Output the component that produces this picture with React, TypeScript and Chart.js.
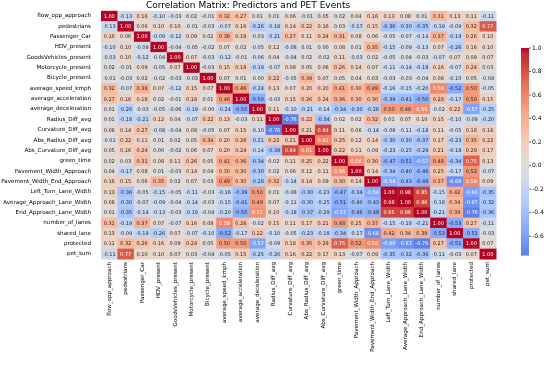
import React, { useEffect, useRef } from "react";
import { Chart, registerables } from "chart.js";

Chart.register(...registerables);

const chartTitle = "Correlation Matrix: Predictors and PET Events";

const variables = [
  "flow_opp_approach",
  "pedestrians",
  "Passenger_Car",
  "HDV_present",
  "GoodsVehicles_present",
  "Motorcycle_present",
  "Bicycle_present",
  "average_speed_kmph",
  "average_acceleration",
  "average_deceleration",
  "Radius_Diff_avg",
  "Curvature_Diff_avg",
  "Abs_Radius_Diff_avg",
  "Abs_Curvature_Diff_avg",
  "green_time",
  "Pavement_Width_Approach",
  "Pavement_Width_End_Approach",
  "Left_Turn_Lane_Width",
  "Average_Approach_Lane_Width",
  "End_Approach_Lane_Width",
  "number_of_lanes",
  "shared_lane",
  "protected",
  "pet_sum",
];

const corrRows: number[][] = [
  [1.00, -0.13, 0.16, -0.10, -0.03, 0.02, -0.01, 0.32, 0.27, 0.01, 0.01, 0.06, -0.01, 0.05, 0.02, 0.04, 0.16, 0.13, 0.08, 0.01, 0.31, 0.13, 0.11, -0.11],
  [-0.13, 1.00, 0.06, 0.10, 0.10, -0.01, -0.03, -0.07, 0.16, -0.26, -0.18, 0.14, 0.22, 0.16, 0.03, -0.17, 0.15, -0.36, -0.30, -0.35, -0.19, -0.09, 0.32, 0.77],
  [0.16, 0.06, 1.00, -0.09, -0.12, 0.09, 0.02, 0.38, 0.18, -0.03, -0.21, 0.27, 0.11, 0.24, 0.31, 0.08, 0.06, -0.05, -0.07, -0.14, 0.37, -0.19, 0.26, 0.10],
  [-0.10, 0.10, -0.09, 1.00, -0.04, -0.05, -0.02, 0.07, 0.02, -0.05, 0.12, -0.08, 0.01, 0.00, 0.08, 0.01, 0.35, -0.15, -0.09, -0.13, 0.07, -0.26, 0.16, 0.10],
  [-0.03, 0.10, -0.12, -0.04, 1.00, 0.07, -0.03, -0.12, -0.01, -0.06, 0.04, -0.04, 0.02, -0.02, 0.11, -0.03, 0.02, -0.05, -0.04, -0.03, -0.07, 0.07, 0.09, 0.07],
  [0.02, -0.01, 0.09, -0.05, 0.07, 1.00, -0.03, 0.15, 0.18, -0.19, -0.07, 0.08, 0.05, 0.06, 0.26, 0.14, 0.07, -0.11, -0.14, -0.19, 0.16, -0.07, 0.24, 0.03],
  [-0.01, -0.03, 0.02, -0.02, -0.03, -0.03, 1.00, 0.07, 0.01, -0.00, 0.22, -0.05, 0.34, 0.07, 0.05, 0.04, 0.03, -0.03, -0.03, -0.04, 0.08, -0.10, 0.05, -0.04],
  [0.32, -0.07, 0.38, 0.07, -0.12, 0.15, 0.07, 1.00, 0.46, -0.24, 0.13, 0.07, 0.20, 0.20, 0.41, 0.30, 0.49, -0.16, -0.15, -0.20, 0.58, -0.52, 0.50, -0.05],
  [0.27, 0.16, 0.18, 0.02, -0.01, 0.18, 0.01, 0.46, 1.00, -0.50, -0.03, 0.15, 0.26, 0.24, 0.36, 0.30, 0.30, -0.39, -0.41, -0.50, 0.28, -0.17, 0.50, 0.15],
  [0.01, -0.26, -0.03, -0.05, -0.06, -0.19, -0.00, -0.24, -0.50, 1.00, 0.11, -0.10, -0.21, -0.14, -0.34, -0.30, -0.28, 0.50, 0.49, 0.55, -0.02, 0.22, -0.57, -0.25],
  [0.01, -0.18, -0.21, 0.12, 0.04, -0.07, 0.22, 0.13, -0.03, 0.11, 1.00, -0.76, 0.22, -0.34, 0.02, 0.02, 0.32, 0.01, 0.07, 0.10, 0.15, -0.10, -0.09, -0.20],
  [0.06, 0.14, 0.27, -0.08, -0.04, 0.08, -0.05, 0.07, 0.15, -0.10, -0.76, 1.00, 0.21, 0.84, 0.11, 0.06, -0.14, -0.08, -0.11, -0.18, 0.11, -0.05, 0.18, 0.16],
  [-0.01, 0.22, 0.11, 0.01, 0.02, 0.05, 0.34, 0.20, 0.26, -0.21, 0.22, 0.21, 1.00, 0.61, 0.25, 0.12, 0.14, -0.30, -0.30, -0.37, 0.17, -0.23, 0.35, 0.22],
  [0.05, 0.16, 0.24, 0.00, -0.02, 0.06, 0.07, 0.20, 0.24, -0.14, -0.34, 0.84, 0.61, 1.00, 0.22, 0.11, 0.09, -0.23, -0.25, -0.29, 0.21, -0.18, 0.29, 0.17],
  [0.02, 0.03, 0.31, 0.08, 0.11, 0.26, 0.05, 0.41, 0.36, -0.34, 0.02, 0.11, 0.25, 0.22, 1.00, 0.56, 0.30, -0.47, -0.51, -0.57, 0.48, -0.34, 0.75, 0.13],
  [0.04, -0.17, 0.08, 0.01, -0.03, 0.14, 0.04, 0.30, 0.30, -0.30, 0.02, 0.06, 0.12, 0.11, 0.56, 1.00, 0.14, -0.34, -0.40, -0.46, 0.25, -0.17, 0.52, -0.07],
  [0.16, 0.15, 0.06, 0.35, 0.02, 0.07, 0.03, 0.49, 0.30, -0.28, 0.32, -0.14, 0.14, 0.09, 0.30, 0.14, 1.00, -0.54, -0.43, -0.49, 0.37, -0.68, 0.58, 0.09],
  [0.13, -0.36, -0.05, -0.15, -0.05, -0.11, -0.03, -0.16, -0.39, 0.50, 0.01, -0.08, -0.30, -0.23, -0.47, -0.34, -0.54, 1.00, 0.98, 0.85, -0.15, 0.42, -0.60, -0.35],
  [0.08, -0.30, -0.07, -0.09, -0.04, -0.14, -0.03, -0.15, -0.41, 0.49, 0.07, -0.11, -0.30, -0.25, -0.51, -0.40, -0.43, 0.98, 1.00, 0.86, -0.18, 0.34, -0.67, -0.32],
  [0.01, -0.35, -0.14, -0.13, -0.03, -0.19, -0.04, -0.20, -0.50, 0.55, 0.10, -0.18, -0.37, -0.29, -0.57, -0.46, -0.49, 0.85, 0.86, 1.00, -0.21, 0.39, -0.76, -0.36],
  [0.31, -0.19, 0.37, 0.07, -0.07, 0.16, 0.08, 0.58, 0.28, -0.02, 0.15, 0.11, 0.17, 0.21, 0.48, 0.25, 0.37, -0.15, -0.18, -0.21, 1.00, -0.53, 0.27, -0.11],
  [0.13, -0.09, -0.19, -0.26, 0.07, -0.07, -0.10, -0.52, -0.17, 0.22, -0.10, -0.05, -0.23, -0.18, -0.34, -0.17, -0.68, 0.42, 0.34, 0.39, -0.53, 1.00, -0.51, -0.03],
  [0.11, 0.32, 0.26, 0.16, 0.09, 0.24, 0.05, 0.50, 0.50, -0.57, -0.09, 0.18, 0.35, 0.29, 0.75, 0.52, 0.58, -0.60, -0.67, -0.76, 0.27, -0.51, 1.00, 0.07],
  [-0.11, 0.77, 0.10, 0.10, 0.07, 0.03, -0.04, -0.05, 0.15, -0.25, -0.20, 0.16, 0.22, 0.17, 0.13, -0.07, 0.09, -0.35, -0.32, -0.36, -0.11, -0.03, 0.07, 1.00],
];

const colorbarTicks = [1.0, 0.8, 0.6, 0.4, 0.2, 0.0, -0.2, -0.4, -0.6];

// matplotlib "coolwarm" colour stops (styling)
const COOLWARM: number[][] = [
  [59, 76, 192], [68, 90, 204], [77, 104, 215], [87, 117, 225], [98, 130, 234],
  [108, 142, 241], [119, 154, 247], [130, 165, 251], [141, 176, 254], [152, 185, 255],
  [163, 194, 255], [174, 201, 253], [184, 208, 249], [194, 213, 244], [204, 217, 238],
  [213, 219, 230], [221, 221, 221], [229, 216, 209], [236, 211, 197], [241, 204, 185],
  [245, 196, 173], [247, 187, 160], [247, 177, 148], [247, 166, 135], [244, 154, 123],
  [241, 141, 111], [236, 127, 99], [229, 112, 88], [222, 96, 77], [213, 80, 66],
  [203, 62, 56], [192, 40, 47], [180, 4, 38],
];

function coolwarm(t: number): number[] {
  const tt = Math.max(0, Math.min(1, t));
  const n = COOLWARM.length - 1;
  const f = tt * n;
  const i = Math.min(Math.floor(f), n - 1);
  const r = f - i;
  const a = COOLWARM[i];
  const b = COOLWARM[i + 1];
  return [a[0] + (b[0] - a[0]) * r, a[1] + (b[1] - a[1]) * r, a[2] + (b[2] - a[2]) * r];
}

// seaborn centred at 0 -> normalised over [-1, 1]
function cellRGB(v: number): number[] {
  return coolwarm((v + 1) / 2);
}

function rgbStr(c: number[]) {
  return `rgb(${Math.round(c[0])},${Math.round(c[1])},${Math.round(c[2])})`;
}

function luminance(c: number[]) {
  const lin = c.map((x) => {
    const s = x / 255;
    return s <= 0.03928 ? s / 12.92 : Math.pow((s + 0.055) / 1.055, 2.4);
  });
  return 0.2126 * lin[0] + 0.7152 * lin[1] + 0.0722 * lin[2];
}

function fmt(v: number) {
  if (Object.is(v, -0)) return "-0.00";
  return v.toFixed(2);
}

const FONT = "DejaVu Sans";

const heatmapPlugin = {
  id: "heatmapCells",
  beforeDatasetsDraw(chart: any) {
    const { ctx, scales } = chart;
    const xs = scales.x;
    const ys = scales.y;
    const cw = Math.abs(xs.getPixelForValue(1) - xs.getPixelForValue(0));
    const ch = Math.abs(ys.getPixelForValue(1) - ys.getPixelForValue(0));
    ctx.save();
    ctx.font = `5px "${FONT}"`;
    ctx.textAlign = "center";
    ctx.textBaseline = "middle";
    for (let i = 0; i < corrRows.length; i++) {
      for (let j = 0; j < corrRows[i].length; j++) {
        const v = corrRows[i][j];
        const cx = xs.getPixelForValue(j);
        const cy = ys.getPixelForValue(i);
        const c = cellRGB(v);
        ctx.fillStyle = rgbStr(c);
        ctx.fillRect(cx - cw / 2, cy - ch / 2, cw + 0.5, ch + 0.5);
      }
    }
    for (let i = 0; i < corrRows.length; i++) {
      for (let j = 0; j < corrRows[i].length; j++) {
        const v = corrRows[i][j];
        const cx = xs.getPixelForValue(j);
        const cy = ys.getPixelForValue(i);
        const c = cellRGB(v);
        ctx.fillStyle = luminance(c) > 0.408 ? "#262626" : "#ffffff";
        ctx.fillText(fmt(v), cx, cy + 0.5);
      }
    }
    ctx.restore();
  },
  afterDraw(chart: any) {
    // colour bar
    const { ctx, chartArea } = chart;
    const vmin = Math.min(...corrRows.map((r) => Math.min(...r)));
    const vmax = Math.max(...corrRows.map((r) => Math.max(...r)));
    const x0 = 521;
    const w = 8;
    const top = 48;
    const bottom = chartArea.bottom - 4;
    const h = bottom - top;
    ctx.save();
    const steps = 200;
    for (let k = 0; k < steps; k++) {
      const v = vmax - ((vmax - vmin) * (k + 0.5)) / steps;
      ctx.fillStyle = rgbStr(cellRGB(v));
      ctx.fillRect(x0, top + (h * k) / steps, w, h / steps + 0.6);
    }
    ctx.font = `6px "${FONT}"`;
    ctx.textAlign = "left";
    ctx.textBaseline = "middle";
    ctx.fillStyle = "#000";
    ctx.strokeStyle = "#000";
    ctx.lineWidth = 0.6;
    for (const t of colorbarTicks) {
      const y = top + ((vmax - t) / (vmax - vmin)) * h;
      ctx.beginPath();
      ctx.moveTo(x0 + w, y);
      ctx.lineTo(x0 + w + 2, y);
      ctx.stroke();
      ctx.fillText(t.toFixed(1), x0 + w + 3, y);
    }
    ctx.restore();
  },
};

export default function App() {
  const ref = useRef<HTMLCanvasElement | null>(null);
  useEffect(() => {
    document.body.style.margin = "0";
    const canvas = ref.current;
    if (!canvas) return;
    const points: any[] = [];
    corrRows.forEach((row, i) =>
      row.forEach((v, j) => points.push({ x: variables[j], y: variables[i], v }))
    );
    const chart = new Chart(canvas, {
      type: "scatter",
      data: {
        datasets: [
          {
            data: points,
            pointRadius: 0,
            pointHoverRadius: 0,
          },
        ],
      },
      options: {
        responsive: false,
        animation: false,
        devicePixelRatio: 1,
        layout: { padding: { left: 0, right: 54, top: 0, bottom: 0 } },
        plugins: {
          legend: { display: false },
          tooltip: { enabled: false },
          title: {
            display: true,
            text: chartTitle,
            color: "#000",
            font: { family: FONT, size: 9, weight: "normal" },
            padding: { top: 0, bottom: 0 },
          },
        },
        scales: {
          x: {
            type: "category",
            labels: variables,
            offset: true,
            grid: { display: false, drawTicks: true, tickLength: 2 },
            border: { display: false },
            ticks: {
              autoSkip: false,
              minRotation: 90,
              maxRotation: 90,
              color: "#000",
              padding: 1,
              font: { family: FONT, size: 5.6 },
            },
            afterFit(scale: any) {
              scale.height = 108;
            },
          },
          y: {
            type: "category",
            labels: variables,
            offset: true,
            grid: { display: false },
            border: { display: false },
            ticks: {
              autoSkip: false,
              color: "#000",
              padding: 2,
              font: { family: FONT, size: 5.6 },
            },
            afterFit(scale: any) {
              scale.width = 101;
            },
          },
        },
      },
      plugins: [heatmapPlugin],
    });
    return () => chart.destroy();
  }, []);
  return (
    <div style={{ width: 550, height: 367 }}>
      <canvas ref={ref} width={550} height={367} />
    </div>
  );
}
